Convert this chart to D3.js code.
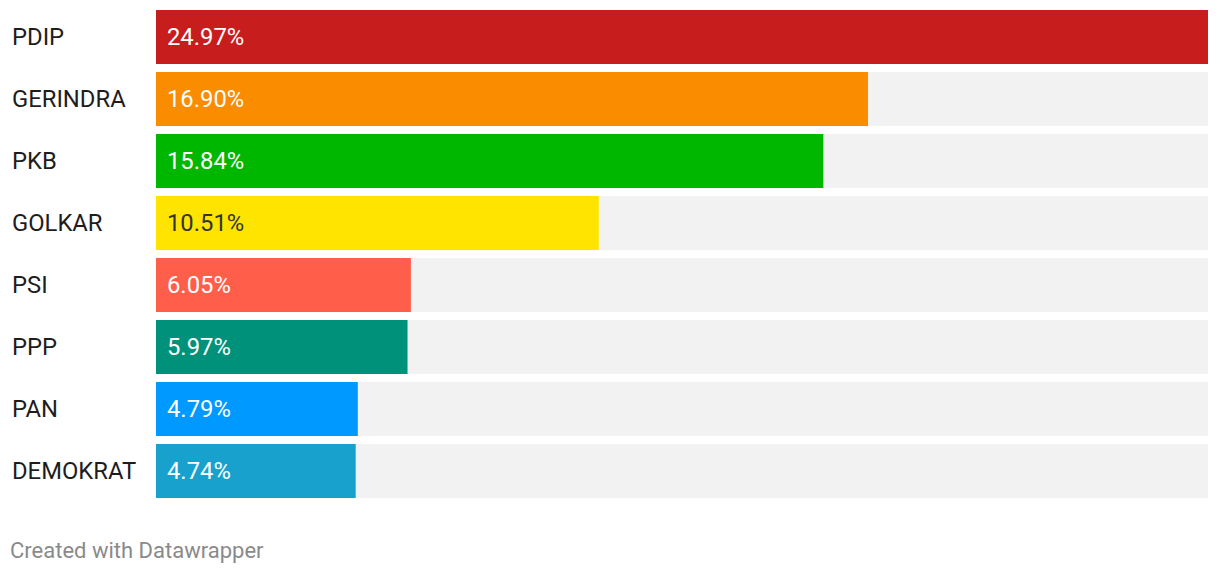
<!DOCTYPE html>
<html><head><meta charset="utf-8">
<script src="https://cdn.jsdelivr.net/npm/d3@7"></script>
<style>
html,body{margin:0;padding:0;background:#fff;}
svg{display:block;font-family:Roboto,"Noto Sans",sans-serif;}
</style></head>
<body>
<svg id="chart" width="1220" height="574"></svg>
<script>
const parties = ["PDIP","GERINDRA","PKB","GOLKAR","PSI","PPP","PAN","DEMOKRAT"];
const shares = [24.97,16.90,15.84,10.51,6.05,5.97,4.79,4.74];
const barColors = ["#c71e1d","#fa8c00","#00b700","#ffe400","#ff5e4b","#00917a","#0099ff","#18a1cd"];
const labelColors = ["#fff","#fff","#fff","#333","#fff","#fff","#fff","#fff"];
const maxValue = 24.97;

const svg = d3.select("#chart");
const x = d3.scaleLinear().domain([0, maxValue]).range([156, 1208]);
const yb = d3.scaleBand().domain(parties).range([10, 10 + 62*8]).padding(0);
const bh = 54;

const rows = svg.selectAll("g.row").data(parties).enter().append("g").attr("class","row");

rows.append("rect")
  .attr("x", x(0)).attr("y", d => yb(d))
  .attr("width", x(maxValue) - x(0)).attr("height", bh)
  .attr("fill", "#f2f2f2");

rows.append("rect")
  .attr("x", x(0)).attr("y", d => yb(d))
  .attr("width", (d,i) => x(shares[i]) - x(0)).attr("height", bh)
  .attr("fill", (d,i) => barColors[i]);

rows.append("text")
  .attr("x", 12).attr("y", d => yb(d) + bh/2 + 7.5)
  .attr("font-size", 23.8).attr("fill", "#1d1d1d")
  .text(d => d);

rows.append("text")
  .attr("x", x(0) + 11).attr("y", d => yb(d) + bh/2 + 7.5)
  .attr("font-size", 23.8).attr("fill", (d,i) => labelColors[i])
  .text((d,i) => shares[i].toFixed(2) + "%");

svg.append("text")
  .attr("x", 10).attr("y", 558)
  .attr("font-size", 22).attr("fill", "#8a8a8a")
  .text("Created with Datawrapper");
</script>
</body></html>
